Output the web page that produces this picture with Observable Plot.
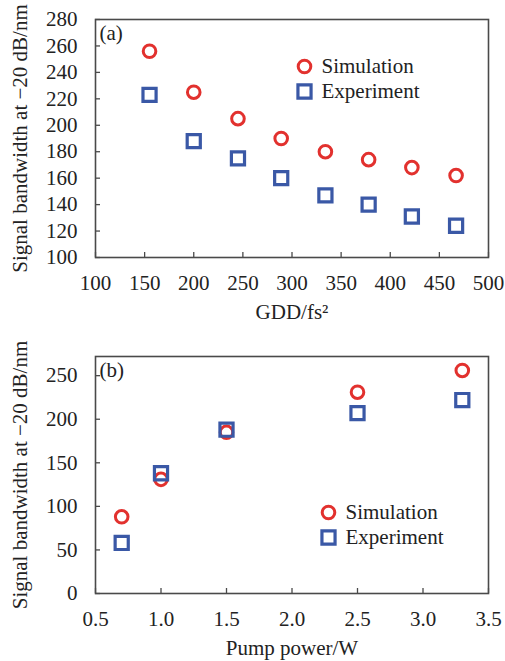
<!DOCTYPE html>
<html>
<head>
<meta charset="utf-8">
<script src="https://cdn.jsdelivr.net/npm/d3@7"></script>
<script src="https://cdn.jsdelivr.net/npm/@observablehq/plot@0.6"></script>
<style>
  html, body { margin: 0; padding: 0; background: #fff; }
  #chart { width: 505px; }
  svg { display: block; }
</style>
</head>
<body>
<div id="chart"></div>
<script>
// Panel (a): bandwidth vs GDD
const gddValues = [155, 200, 245, 289, 334, 378, 422, 467];
const gddSimulation = [256, 225, 205, 190, 180, 174, 168, 162];
const gddExperiment = [223, 188, 175, 160, 147, 140, 131, 124];
const gddTicksX = [100, 150, 200, 250, 300, 350, 400, 450, 500];
const gddTicksY = [100, 120, 140, 160, 180, 200, 220, 240, 260, 280];

// Panel (b): bandwidth vs pump power
const pumpValues = [0.7, 1.0, 1.5, 2.5, 3.3];
const pumpSimulation = [88, 131, 185, 231, 256];
const pumpExperiment = [58, 138, 188, 207, 222];
const pumpTicksX = [0.5, 1.0, 1.5, 2.0, 2.5, 3.0, 3.5];
const pumpTicksY = [0, 50, 100, 150, 200, 250];

const seriesNames = ["Simulation", "Experiment"];
const yLabel = "Signal bandwidth at \u221220 dB/nm";

const RED = "#e2312e";
const BLUE = "#3a58a6";
const FRAME = "#4a4a4a";
const TEXT = "#222";
const FONT = "'Liberation Serif', 'Times New Roman', serif";

function rows(xs, ys) { return xs.map((x, i) => ({x, y: ys[i]})); }

function legendText(names, dx, dy) {
  return names.map((n, i) => Plot.text([n], {
    frameAnchor: "top-left", lineAnchor: "middle", dx, dy: dy + i * 25,
    text: d => d, textAnchor: "start", fontSize: 21, fill: TEXT
  }));
}

function build(opts) {
  return Plot.plot({
    width: 505,
    height: opts.height,
    marginTop: opts.marginTop,
    marginBottom: 68,
    marginLeft: 95,
    marginRight: 17,
    style: {fontFamily: FONT, fontSize: "21px", color: TEXT, background: "#fff"},
    x: {domain: opts.xDomain},
    y: {domain: opts.yDomain},
    marks: [
      Plot.frame({stroke: FRAME, strokeWidth: 1.6}),
      Plot.axisX({ticks: opts.xTicks, tickSize: -5, tickFormat: opts.xFormat, tickPadding: 23, stroke: FRAME, strokeWidth: 1.3,
        label: opts.xLabel, labelAnchor: "center", labelArrow: "none", labelOffset: 61, fontSize: 21, fill: TEXT}),
      Plot.axisY({ticks: opts.yTicks, tickSize: -5, tickPadding: 23, stroke: FRAME, strokeWidth: 1.3,
        label: yLabel, labelAnchor: "center", labelArrow: "none", labelOffset: 83, fontSize: 21, fill: TEXT}),
      Plot.text([opts.tag], {frameAnchor: "top-left", lineAnchor: "middle", dx: 4, dy: 14, text: d => d, fontSize: 21, fill: TEXT, textAnchor: "start"}),
      Plot.dot(rows(opts.xs, opts.sim), {x: "x", y: "y", symbol: "circle", r: 6.3, stroke: RED, strokeWidth: 3, fill: "none"}),
      Plot.dot(rows(opts.xs, opts.exp), {x: "x", y: "y", symbol: "square", r: 7.4, stroke: BLUE, strokeWidth: 3.2, fill: "none"}),
      Plot.dot([seriesNames[0]], {frameAnchor: "top-left", dx: opts.legendDx, dy: opts.legendDy, symbol: "circle", r: 6.3, stroke: RED, strokeWidth: 3, fill: "none"}),
      Plot.dot([seriesNames[1]], {frameAnchor: "top-left", dx: opts.legendDx, dy: opts.legendDy + 25, symbol: "square", r: 7.4, stroke: BLUE, strokeWidth: 3.2, fill: "none"}),
      ...legendText(seriesNames, opts.legendDx + 17, opts.legendDy)
    ]
  });
}

const chart = document.getElementById("chart");
chart.append(build({
  xs: gddValues, sim: gddSimulation, exp: gddExperiment,
  xTicks: gddTicksX, yTicks: gddTicksY,
  xDomain: [100, 500], yDomain: [100, 280],
  xLabel: "GDD/fs\u00b2", tag: "(a)", height: 325, marginTop: 19,
  legendDx: 209, legendDy: 47, xFormat: d3.format("d")
}));
chart.append(build({
  xs: pumpValues, sim: pumpSimulation, exp: pumpExperiment,
  xTicks: pumpTicksX, yTicks: pumpTicksY,
  xDomain: [0.5, 3.5], yDomain: [0, 272],
  xLabel: "Pump power/W", tag: "(b)", height: 336, marginTop: 31,
  legendDx: 233, legendDy: 156, xFormat: d3.format(".1f")
}));
</script>
</body>
</html>
